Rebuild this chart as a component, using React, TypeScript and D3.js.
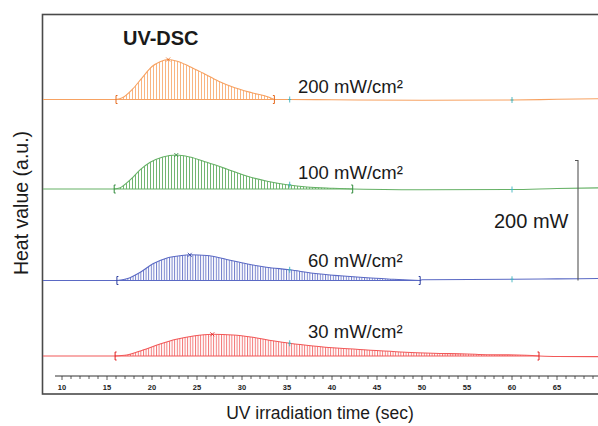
import React from "react";
import * as d3 from "d3";

// ---- data ----
const seriesLabels = ["200 mW/cm²", "100 mW/cm²", "60 mW/cm²", "30 mW/cm²"];
const baseOffsets = [294.5, 205, 113.5, 38];

const t200 = [16.0, 16.7, 17.8, 18.9, 20.0, 20.9, 21.8, 22.8, 24.1, 25.6, 27.4, 29.2, 31.1, 33.0, 33.6];
const h200 = [0, 1.7, 10, 21.7, 33, 37.7, 40, 38.3, 33.3, 26.7, 18.3, 11.7, 6.7, 2.3, 0];

const t100 = [15.8, 16.4, 17.6, 18.7, 19.8, 21.2, 22.7, 24.2, 26.1, 28.3, 30.6, 32.8, 35.0, 37.2, 40.1, 42.3];
const h100 = [0, 1, 9.3, 19.3, 26.7, 32, 34, 32, 26.7, 20, 12.7, 7.7, 4.3, 2, 0.7, 0];

const t60 = [16.1, 17.2, 18.7, 20.1, 21.6, 23.1, 24.2, 26.1, 28.3, 30.5, 32.7, 35.3, 37.9, 40.9, 43.9, 46.8, 49.8];
const h60 = [0, 1.7, 8.3, 16.7, 22.3, 24.7, 25.7, 25, 21, 16.7, 13.3, 10.7, 7.3, 4.7, 2.7, 1.3, 0];

const t30 = [15.9, 17.2, 19.0, 20.9, 22.7, 24.6, 26.7, 29.0, 31.2, 33.4, 35.3, 37.9, 40.9, 43.9, 47.6, 51.2, 55.0, 57.2, 60.6, 63.0];
const h30 = [0, 1, 6, 12, 16.7, 20, 21.7, 21, 18.7, 15.3, 12.7, 10, 7.7, 6, 4, 2.7, 2, 1.3, 1, 0];

// baseline drift outside the peaks
const baseTimes = [35, 40, 50, 60, 65, 70];
const drift200 = [0, -0.3, -0.8, -0.5, 0.2, 0.8];
const drift100 = [0, -0.5, -0.8, -0.5, 0.5, 1.2];
const drift60 = [0, 0.4, 0.8, 1.2, 1.6, 2];
const drift30 = [0, 0, -0.3, -0.4, -0.5, -0.6];

const tealTimes = [35.3, 60];
const tealHeights = [
  [0, -0.5],
  [4.3, -0.5],
  [10.7, 1.2],
  [12.7, 1.0],
];

const xTickLabels = [10, 15, 20, 25, 30, 35, 40, 45, 50, 55, 60, 65];
const scaleBarHeat = [0, 120];
const scaleBarLabel = "200 mW";

const seriesT = [t200, t100, t60, t30];
const seriesH = [h200, h100, h60, h30];
const drifts = [drift200, drift100, drift60, drift30];

const lineColors = ["#f7a262", "#66b166", "#5a69c4", "#f25858"];
const hatchColors = ["#f8ad74", "#62ae62", "#6472c6", "#f36b6b"];
const markColors = ["#e66a1e", "#2f8a3a", "#2b3c9e", "#e01e1e"];
const teal = "#3fb3bd";

const W = 598;
const H = 426;
const font = "'Liberation Sans', Arial, Helvetica, sans-serif";

const labelPos = [
  [298, 93],
  [298, 179],
  [308, 267],
  [308, 338],
];

export default function App() {
  const x = d3.scaleLinear().domain([10, 65]).range([62, 557]);
  const y = d3.scaleLinear().domain([0, 380]).range([394, 14]);
  const xLeft = x.invert(43);

  const line = d3
    .line<[number, number]>()
    .x((d) => x(d[0]))
    .y((d) => y(d[1]))
    .curve(d3.curveMonotoneX);

  const minorTicks = d3.range(10, 70, 1);

  return (
    <svg
      width={W}
      height={H}
      style={{ position: "absolute", left: 0, top: 0, background: "#fff" }}
      fontFamily={font}
    >
      <defs>
        {hatchColors.map((c, i) => (
          <pattern
            key={i}
            id={`hatch${i}`}
            width={i < 2 ? 3 : 2.6}
            height={6}
            patternUnits="userSpaceOnUse"
          >
            <line x1={0.5} y1={0} x2={0.5} y2={6} stroke={c} strokeWidth={0.9} />
          </pattern>
        ))}
      </defs>

      {/* frame */}
      <rect x={42.5} y={14.5} width={600} height={379.5} fill="none" stroke="#4a4a4a" strokeWidth={1.6} />

      {seriesT.map((ts, i) => {
        const off = baseOffsets[i];
        const hs = seriesH[i];
        const pts: [number, number][] = ts.map((t, j) => [t, off + hs[j]]);
        const start = ts[0];
        const end = ts[ts.length - 1];
        const areaPts = ts.map((t, j) => [t, off + hs[j], off]);
        const areaGen = d3
          .area<number[]>()
          .x((d) => x(d[0]))
          .y0((d) => y(d[2]))
          .y1((d) => y(d[1]))
          .curve(d3.curveMonotoneX);
        const rightPts: [number, number][] = [[end, off] as [number, number]].concat(
          baseTimes
            .map((t, k) => [t, off + drifts[i][k]] as [number, number])
            .filter((p) => p[0] > end)
        );
        const leftPts: [number, number][] = [
          [xLeft, off],
          [start, off],
        ];
        const peakIdx = hs.indexOf(d3.max(hs) as number);
        const px = x(ts[peakIdx]);
        const py = y(off + hs[peakIdx]);
        const bx0 = x(start);
        const bx1 = x(end);
        const by = y(off);
        return (
          <g key={i}>
            <path d={areaGen(areaPts) || ""} fill={`url(#hatch${i})`} />
            <path d={line(leftPts) || ""} fill="none" stroke={lineColors[i]} strokeWidth={1.1} />
            <path d={line(rightPts) || ""} fill="none" stroke={lineColors[i]} strokeWidth={1.1} />
            <path d={line(pts) || ""} fill="none" stroke={lineColors[i]} strokeWidth={1.1} />
            <line x1={bx0} x2={bx1} y1={by} y2={by} stroke={lineColors[i]} strokeWidth={1} />
            <path
              d={`M${bx0 + 1.5},${by - 4}H${bx0}V${by + 4}H${bx0 + 1.5}`}
              fill="none"
              stroke={markColors[i]}
              strokeWidth={1}
            />
            <path
              d={`M${bx1 - 1.5},${by - 4}H${bx1}V${by + 4}H${bx1 - 1.5}`}
              fill="none"
              stroke={markColors[i]}
              strokeWidth={1}
            />
            <path
              d={`M${px - 2},${py - 2}L${px + 2},${py + 2}M${px + 2},${py - 2}L${px - 2},${py + 2}`}
              stroke={markColors[i]}
              strokeWidth={0.8}
            />
            {tealTimes.map((t, k) => {
              if (i === 3 && k === 1) return null;
              const tx = x(t);
              const ty = y(off + tealHeights[i][k]);
              return (
                <path
                  key={k}
                  d={`M${tx},${ty - 3}V${ty + 3}M${tx - 1.5},${ty}H${tx + 1.5}`}
                  stroke={teal}
                  strokeWidth={0.9}
                />
              );
            })}
          </g>
        );
      })}

      {/* series labels */}
      {seriesLabels.map((s, i) => (
        <text key={s} x={labelPos[i][0]} y={labelPos[i][1]} fontSize={18.5} fill="#1a1a1a">
          {s}
        </text>
      ))}
      <text x={123} y={45} fontSize={20} fontWeight="bold" fill="#1a1a1a">UV-DSC</text>

      {/* scale bar */}
      <path
        d={`M575,${y(baseOffsets[2] + scaleBarHeat[1])}H578V${y(baseOffsets[2] + scaleBarHeat[0])}`}
        fill="none"
        stroke="#555"
        strokeWidth={1.1}
      />
      <text x={494} y={228} fontSize={20} fill="#1a1a1a">{scaleBarLabel}</text>

      {/* x axis */}
      <g>
        <line x1={55} x2={598} y1={376} y2={376} stroke="#333" strokeWidth={1} />
        {minorTicks.map((t) => (
          <line
            key={t}
            x1={x(t)}
            x2={x(t)}
            y1={376}
            y2={t % 5 === 0 ? 380 : 379}
            stroke="#333"
            strokeWidth={0.8}
          />
        ))}
        {xTickLabels.map((t) => (
          <text
            key={t}
            x={x(t)}
            y={390}
            fontSize={7.5}
            fontWeight="bold"
            textAnchor="middle"
            fill="#222"
          >
            {t}
          </text>
        ))}
      </g>

      {/* axis titles */}
      <text x={320} y={419} fontSize={17.5} textAnchor="middle" fill="#1a1a1a">
        UV irradiation time (sec)
      </text>
      <text
        transform="translate(28,203) rotate(-90)"
        fontSize={19.5}
        textAnchor="middle"
        fill="#1a1a1a"
      >
        Heat value (a.u.)
      </text>
    </svg>
  );
}
